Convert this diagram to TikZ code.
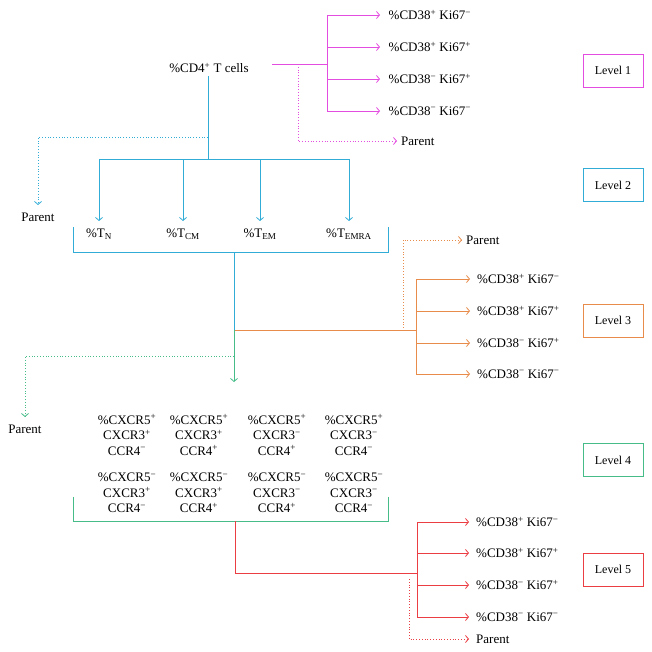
\documentclass[tikz,border=0pt]{standalone}
\usepackage{fontspec}
\setmainfont{Liberation Serif}
\usetikzlibrary{arrows.meta,positioning}

\definecolor{lvone}{RGB}{228,78,224}
\definecolor{lvtwo}{RGB}{48,172,214}
\definecolor{lvthree}{RGB}{232,140,76}
\definecolor{lvfour}{RGB}{70,188,136}
\definecolor{lvfive}{RGB}{234,62,68}

\newcommand{\plusx}{\textsuperscript{+}}
\newcommand{\minusx}{\textsuperscript{\char"2212}}
\newcommand{\cdki}[2]{\%CD38#1 Ki67#2}

\begin{document}
\begin{tikzpicture}[x=1pt,y=-1pt,
  every node/.style={font=\fontsize{13}{15.5}\selectfont},
  ln/.style={line width=0.8pt},
  tip/.style={-{Straight Barb[length=3pt,width=7pt,line width=0.8pt]}},
  dots/.style={dash pattern=on 0.8pt off 2pt},
  leaf/.style={anchor=west,inner xsep=7pt},
  par/.style={anchor=west,inner xsep=4pt},
  below par/.style={anchor=north,inner ysep=8pt},
  lvbox/.style={draw,line width=0.8pt,minimum width=60pt,minimum height=33pt,
    font=\fontsize{12}{14}\selectfont}]
\useasboundingbox (0,0) rectangle (652,652);

% level 1
\node (cd4) at (209,68) {\%CD4\plusx{} T cells};
\foreach \n/\yy/\s/\t in {a/15/\plusx/\minusx, b/47/\plusx/\plusx, c/79/\minusx/\plusx, d/111/\minusx/\minusx}
  \node[leaf,inner xsep=8.5pt] (m\n) at (380,\yy) {\cdki{\s}{\t}};
\coordinate (mstart) at (272,64);
\coordinate (mfork) at (327,64);
\coordinate (mdot) at (298,64);
\node[par] (mpar) at (397,141) {Parent};
\draw[ln,lvone] (mstart) -- (mfork);
\draw[ln,lvone] (ma.west -| mfork) -- (md.west -| mfork);
\foreach \n in {a,b,c,d}
  \draw[ln,lvone,tip] (m\n.west -| mfork) -- (m\n.west);
\draw[ln,lvone,dots,tip] (mdot) |- (mpar.west);

% level 2
\coordinate (cfork) at (208,159);
\coordinate (cdot) at (208,137);
\foreach \n/\xx/\s in {n/99/N, cm/183/CM, em/260/EM, emra/349/EMRA}
  \node[anchor=north,inner ysep=8pt] (t\n) at (\xx,221) {\%T\textsubscript{\s}};
\node[below par] (cpar) at (38,205) {Parent};
\draw[ln,lvtwo] (cd4.south -| cfork) -- (cfork);
\draw[ln,lvtwo] (tn.north |- cfork) -- (temra.north |- cfork);
\foreach \n in {n,cm,em,emra}
  \draw[ln,lvtwo,tip] (t\n.north |- cfork) -- (t\n.north);
\draw[ln,lvtwo,dots,tip] (cdot) -| (cpar.north);
\draw[ln,lvtwo] (73,227) |- (388,252) -- (388,227);
\coordinate (cbot) at (234,252);
\coordinate (split) at (234,330);
\draw[ln,lvtwo] (cbot) -- (split);

% level 3
\coordinate (ofork) at (416,330);
\coordinate (odot) at (403,328);
\foreach \n/\yy/\s/\t in {a/279/\plusx/\minusx, b/311/\plusx/\plusx, c/343/\minusx/\plusx, d/374/\minusx/\minusx}
  \node[leaf] (o\n) at (470,\yy) {\cdki{\s}{\t}};
\node[par] (opar) at (462,240) {Parent};
\draw[ln,lvthree] (split) -- (ofork);
\draw[ln,lvthree] (oa.west -| ofork) -- (od.west -| ofork);
\foreach \n in {a,b,c,d}
  \draw[ln,lvthree,tip] (o\n.west -| ofork) -- (o\n.west);
\draw[ln,lvthree,dots,tip] (odot) |- (opar.west);

% level 4
\coordinate (garrow) at (234,382);
\coordinate (gdot) at (234,356);
\node[below par] (gpar) at (25,417) {Parent};
\draw[ln,lvfour,tip] (split) -- (garrow);
\draw[ln,lvfour,dots,tip] (gdot) -| (gpar.north);
\foreach \n/\xx/\a/\b/\c in {a/127/\plusx/\plusx/\minusx, b/199/\plusx/\plusx/\plusx,
    c/277/\plusx/\minusx/\plusx, d/354/\plusx/\minusx/\minusx}
  \node[align=center] (g\n) at (\xx,435) {\%CXCR5\a\\CXCR3\b\\CCR4\c};
\foreach \n/\xx/\a/\b/\c in {e/127/\minusx/\plusx/\minusx, f/199/\minusx/\plusx/\plusx,
    g/277/\minusx/\minusx/\plusx, h/354/\minusx/\minusx/\minusx}
  \node[align=center] (g\n) at (\xx,493) {\%CXCR5\a\\CXCR3\b\\CCR4\c};
\draw[ln,lvfour] (73,497) |- (388,521) -- (388,497);

% level 5
\coordinate (gbot) at (235,521);
\coordinate (rfork) at (417,573);
\coordinate (rdot) at (409,579);
\foreach \n/\yy/\s/\t in {a/522/\plusx/\minusx, b/553/\plusx/\plusx, c/585/\minusx/\plusx, d/617/\minusx/\minusx}
  \node[leaf] (r\n) at (469,\yy) {\cdki{\s}{\t}};
\node[leaf] (rpar) at (469,639) {Parent};
\draw[ln,lvfive] (gbot) |- (rfork);
\draw[ln,lvfive] (ra.west -| rfork) -- (rd.west -| rfork);
\foreach \n in {a,b,c,d}
  \draw[ln,lvfive,tip] (r\n.west -| rfork) -- (r\n.west);
\draw[ln,lvfive,dots,tip] (rdot) |- (rpar.west);

% level boxes
\node[lvbox,draw=lvone] (lv1) at (613,70.5) {Level 1};
\node[lvbox,draw=lvtwo] (lv2) at (613,185) {Level 2};
\node[lvbox,draw=lvthree] (lv3) at (613,320.5) {Level 3};
\node[lvbox,draw=lvfour] (lv4) at (613,460) {Level 4};
\node[lvbox,draw=lvfive] (lv5) at (613,569.5) {Level 5};
\end{tikzpicture}
\end{document}
